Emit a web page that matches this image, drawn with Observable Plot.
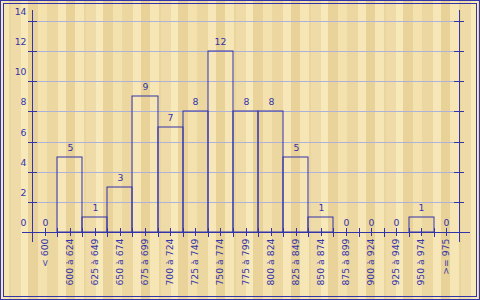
<!DOCTYPE html>
<html>
<head>
<meta charset="utf-8">
<script src="https://cdn.jsdelivr.net/npm/d3@7"></script>
<script src="https://cdn.jsdelivr.net/npm/@observablehq/plot@0.6"></script>
<style>
  html, body { margin: 0; padding: 0; }
  #wrap {
    position: relative; width: 480px; height: 300px; overflow: hidden;
    background-color: #eed9a3;
    background-image:
      repeating-linear-gradient(90deg,
        #f6e6b5 0px 9px, #ead59d 9px 11px, #efdba7 11px 21px, #f8e9bb 21px 28px,
        #e9d39a 28px 38px, #f3e1ae 38px 47px, #ecd7a0 47px 58px, #f7e7b8 58px 66px,
        #e8d298 66px 75px);
  }
  #wrap svg { position: absolute; left: 0; top: 0; }
  .b1 { position: absolute; left: 0; top: 0; width: 480px; height: 300px; box-sizing: border-box; border: 1px solid #3333aa; pointer-events: none; }
  .b2 { position: absolute; left: 3px; top: 3px; width: 474px; height: 294px; box-sizing: border-box; border: 1px solid #3333aa; pointer-events: none; }
</style>
</head>
<body>
<div id="wrap"><div class="b1"></div><div class="b2"></div></div>
<script>
const categories = ["< 600", "600 à 624", "625 à 649", "650 à 674", "675 à 699", "700 à 724",
  "725 à 749", "750 à 774", "775 à 799", "800 à 824", "825 à 849", "850 à 874",
  "875 à 899", "900 à 924", "925 à 949", "950 à 974", ">= 975"];
const counts = [0, 5, 1, 3, 9, 7, 8, 12, 8, 8, 5, 1, 0, 0, 0, 1, 0];
const yTicks = [0, 2, 4, 6, 8, 10, 12, 14];

const data = categories.map((label, i) => ({i, label, count: counts[i]}));
const n = categories.length;
const blue = "#3333aa";

const chart = Plot.plot({
  width: 480, height: 300,
  marginLeft: 32, marginRight: 21, marginTop: 21, marginBottom: 68,
  x: {type: "linear", domain: [0, n], axis: null, round: true},
  y: {domain: [0, 14], axis: null, round: true},
  style: {background: "transparent", fontFamily: "DejaVu Sans, Verdana, sans-serif", fontSize: "9.3px", color: blue},
  marks: [
    Plot.ruleY(yTicks.filter(t => t > 0), {y: d => d, x1: 0.2, x2: n - 0.2, stroke: "#aeb2d8", strokeWidth: 1}),
    Plot.rect(data, {x1: d => d.i, x2: d => d.i + 1, y1: 0, y2: "count", fill: "none", stroke: blue}),
    Plot.ruleY([0], {x1: -0.4, x2: n + 0.44, stroke: blue}),
    Plot.ruleX([0, n], {y1: -0.66, y2: 14.73, stroke: blue}),
    Plot.ruleY(yTicks, {y: d => d, x1: -0.16, x2: 0.2, stroke: blue}),
    Plot.ruleY(yTicks, {y: d => d, x1: n - 0.2, x2: n + 0.2, stroke: blue}),
    Plot.ruleX(d3.range(n + 1), {x: d => d, y1: -0.33, y2: 0.27, stroke: blue}),
    Plot.ruleX(data, {x: d => d.i + 0.5, y1: -0.27, y2: 0.27, stroke: blue}),
    Plot.text(data, {x: d => d.i + 0.5, y: "count", text: d => String(d.count), dy: -9, fill: blue}),
    Plot.text(yTicks, {x: 0, y: d => d, text: d => String(d), textAnchor: "end", dx: -6, dy: -9, fill: blue}),
    Plot.text(data, {x: d => d.i + 0.5, y: 0, text: "label", rotate: -90, textAnchor: "end", dy: 6, fill: blue})
  ]
});
document.getElementById("wrap").prepend(chart);
</script>
</body>
</html>
